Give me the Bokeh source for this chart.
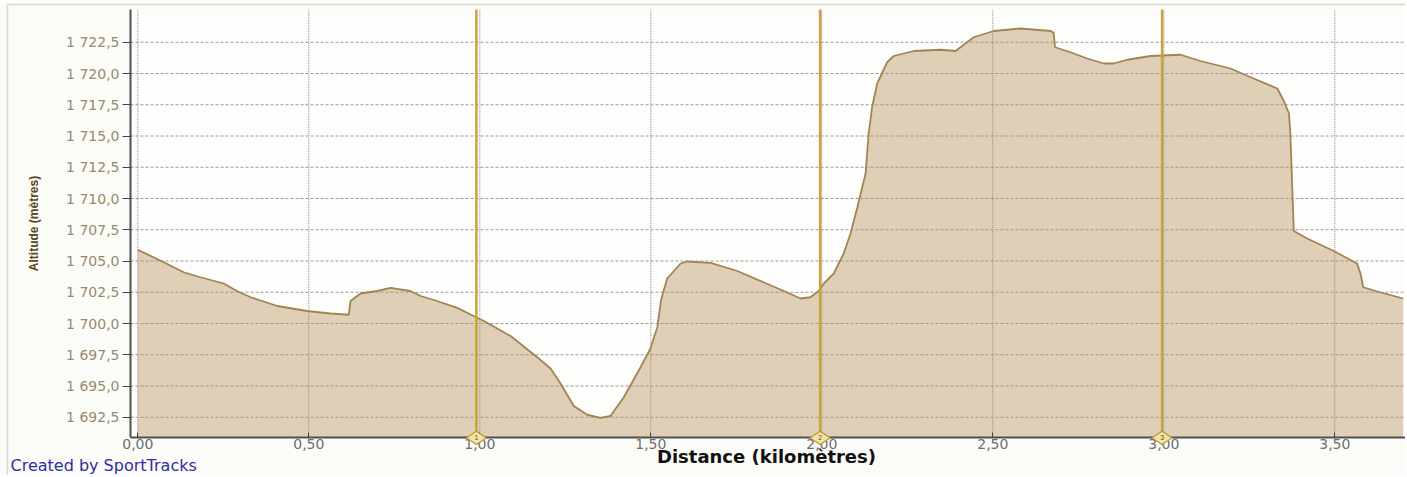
from bokeh.plotting import figure
from bokeh.models import Range1d, FixedTicker, Label, BoxAnnotation
from bokeh.embed import file_html
from bokeh.resources import INLINE
import math

# ---- data ----
distance_km = [0.000, 0.076, 0.134, 0.183, 0.251, 0.290, 0.330, 0.408, 0.495, 0.563,
               0.617, 0.622, 0.651, 0.700, 0.739, 0.797, 0.827, 0.875, 0.934, 0.982,
               1.012, 1.090, 1.168, 1.207, 1.236, 1.275, 1.314, 1.353, 1.382, 1.421,
               1.470, 1.499, 1.519, 1.530, 1.548, 1.587, 1.606, 1.675, 1.753, 1.889,
               1.938, 1.967, 1.991, 2.006, 2.035, 2.064, 2.084, 2.104, 2.128, 2.137,
               2.147, 2.162, 2.191, 2.210, 2.269, 2.347, 2.391, 2.444, 2.503, 2.581,
               2.669, 2.678, 2.682, 2.727, 2.776, 2.825, 2.854, 2.893, 2.961, 3.049,
               3.107, 3.195, 3.254, 3.332, 3.351, 3.366, 3.370, 3.380, 3.419, 3.497,
               3.565, 3.575, 3.583, 3.632, 3.700]
altitude_m = [1705.9, 1704.9, 1704.1, 1703.7, 1703.2, 1702.6, 1702.1, 1701.4, 1701.0, 1700.8,
              1700.7, 1701.8, 1702.4, 1702.6, 1702.85, 1702.6, 1702.2, 1701.8, 1701.25, 1700.6,
              1700.2, 1699.0, 1697.3, 1696.4, 1695.2, 1693.4, 1692.7, 1692.45, 1692.6, 1694.1,
              1696.5, 1698.0, 1699.7, 1701.9, 1703.6, 1704.8, 1704.96, 1704.85, 1704.2, 1702.6,
              1702.0, 1702.1, 1702.6, 1703.2, 1704.0, 1705.6, 1707.2, 1709.3, 1712.0, 1715.2,
              1717.3, 1719.2, 1720.9, 1721.4, 1721.8, 1721.9, 1721.8, 1722.9, 1723.4, 1723.6,
              1723.4, 1723.25, 1722.1, 1721.7, 1721.2, 1720.8, 1720.8, 1721.1, 1721.4, 1721.5,
              1721.0, 1720.4, 1719.7, 1718.8, 1717.8, 1716.8, 1715.2, 1707.4, 1706.8, 1705.8,
              1704.8, 1704.0, 1702.9, 1702.5, 1702.0]

marker_km = [0.99, 1.995, 2.995]
marker_labels = ["1", "2", "3"]

x_ticks = [0.0, 0.5, 1.0, 1.5, 2.0, 2.5, 3.0, 3.5]
x_tick_labels = ["0,00", "0,50", "1,00", "1,50", "2,00", "2,50", "3,00", "3,50"]
y_ticks = [1692.5, 1695.0, 1697.5, 1700.0, 1702.5, 1705.0, 1707.5, 1710.0,
           1712.5, 1715.0, 1717.5, 1720.0, 1722.5]
y_tick_labels = ["1 692,5", "1 695,0", "1 697,5", "1 700,0", "1 702,5", "1 705,0",
                 "1 707,5", "1 710,0", "1 712,5", "1 715,0", "1 717,5", "1 720,0",
                 "1 722,5"]

# plotting area limits (axis positions) and the full canvas range
X_AXIS, X_PLOT_END = -0.0213, 3.7067
Y_AXIS, Y_PLOT_TOP = 1690.85, 1725.12
X_START, X_END = -0.4015, 3.7067
Y_START, Y_END = 1687.84, 1725.84

W, H = 1405, 475
p = figure(width=W, height=H, output_backend="svg", toolbar_location=None,
           x_range=Range1d(X_START, X_END), y_range=Range1d(Y_START, Y_END),
           min_border_left=0, min_border_right=0, min_border_top=0,
           min_border_bottom=0)
p.border_fill_color = "#fbfbf8"
p.background_fill_color = "#fbfbf8"
p.outline_line_color = None
p.xgrid.visible = False
p.ygrid.visible = False

# plot area background
p.quad(left=[X_AXIS], right=[X_PLOT_END], bottom=[Y_AXIS], top=[Y_PLOT_TOP],
       fill_color="#fdfdfb", line_color=None)

# area fill + profile line
p.varea(x=distance_km, y1=Y_AXIS, y2=altitude_m, fill_color="#dfcfb6")

# grid lines (on top of the fill)
p.segment(x0=[X_AXIS] * len(y_ticks), y0=y_ticks, x1=[X_PLOT_END] * len(y_ticks), y1=y_ticks,
          line_color="#9a9a9a", line_dash="3 2", line_width=1)
p.segment(x0=x_ticks, y0=[Y_AXIS] * len(x_ticks), x1=x_ticks, y1=[Y_PLOT_TOP] * len(x_ticks),
          line_color="#8c8c8c", line_dash="1 1", line_width=1)

p.line(distance_km, altitude_m, line_color="#a08454", line_width=1.8)

# km marker lines
p.segment(x0=marker_km, y0=[Y_AXIS] * 3, x1=marker_km, y1=[Y_PLOT_TOP] * 3,
          line_color="#c6a63a", line_width=2.5)

# axes fixed at the plot-area edges
p.xaxis.fixed_location = Y_AXIS
p.xaxis.bounds = (X_AXIS, X_PLOT_END)
p.yaxis.fixed_location = X_AXIS
p.yaxis.bounds = (Y_AXIS, Y_PLOT_TOP)
p.xaxis.ticker = FixedTicker(ticks=x_ticks)
p.xaxis.major_label_overrides = dict(zip(x_ticks, x_tick_labels))
p.yaxis.ticker = FixedTicker(ticks=y_ticks)
p.yaxis.major_label_overrides = dict(zip(y_ticks, y_tick_labels))

for ax in (p.xaxis, p.yaxis):
    ax.axis_line_color = "#505050"
    ax.axis_line_width = 2
    ax.major_tick_line_color = "#404040"
    ax.minor_tick_line_color = None
    ax.major_label_text_font = "DejaVu Sans"
    ax.major_label_text_font_size = "14px"

p.xaxis.major_tick_in = 5
p.xaxis.major_tick_out = 0
p.xaxis.major_label_standoff = 1
p.xaxis.major_label_text_color = "#6e6e6e"

p.yaxis.major_tick_in = 0
p.yaxis.major_tick_out = 8
p.yaxis.major_label_standoff = 3
p.yaxis.major_label_text_color = "#978b6c"
p.yaxis.axis_label = "Altitude (mètres)"
p.yaxis.axis_label_text_font = "Liberation Sans"
p.yaxis.axis_label_text_font_style = "bold"
p.yaxis.axis_label_text_font_size = "12px"
p.yaxis.axis_label_text_color = "#5a4818"
p.yaxis.axis_label_standoff = 22

# km marker diamonds on the axis
p.scatter(marker_km, [Y_AXIS] * 3, marker="diamond", size=20, angle=math.pi / 2,
          fill_color="#f2e4a8", line_color="#b4942e", line_width=1.2, level="overlay")
p.text(marker_km, [Y_AXIS] * 3, text=marker_labels, text_font_size="7px",
       text_align="center", text_baseline="middle", text_color="#6a5510", level="overlay")

# outer chart frame
p.add_layout(BoxAnnotation(left=-0.381, right=X_END + 1, top=1725.516, bottom=Y_START - 1,
                           fill_color=None, line_color="#808080", line_width=1.5))

p.add_layout(Label(x=766, y=9, x_units="screen", y_units="screen", text_align="center",
                   text="Distance (kilomètres)", text_font="DejaVu Sans",
                   text_font_style="bold", text_font_size="18px", text_color="#111111"))
p.add_layout(Label(x=10, y=1, x_units="screen", y_units="screen",
                   text="Created by SportTracks", text_font="DejaVu Sans",
                   text_font_size="16px", text_color="#2e2ea0"))

open("out.html", "w").write(file_html(p, INLINE))
